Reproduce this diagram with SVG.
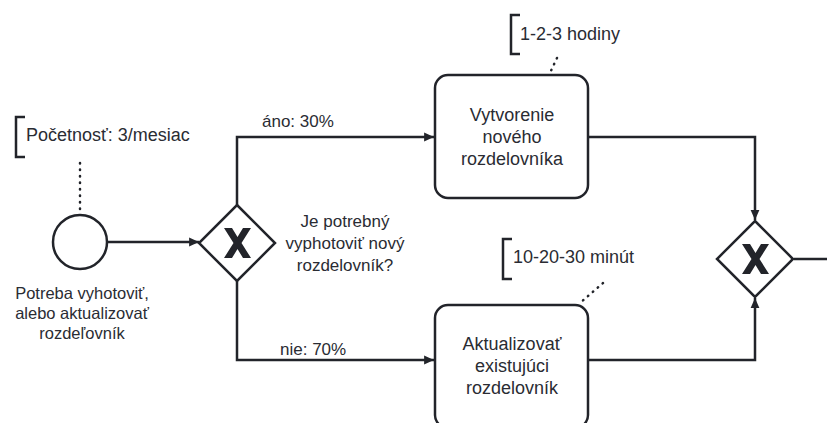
<svg xmlns="http://www.w3.org/2000/svg" width="827" height="423" viewBox="0 0 827 423">
  <style>
    .shape { fill: #ffffff; stroke: #22242a; stroke-width: 2.5; }
    .flow { fill: none; stroke: #22242a; stroke-width: 2.5; }
    .assoc { fill: none; stroke: #22242a; stroke-width: 2.5; stroke-dasharray: 0.5 6; stroke-linecap: round; }
    .bracket { fill: none; stroke: #22242a; stroke-width: 2.5; }
    .label { font-family: "Liberation Sans", Arial, sans-serif; font-size: 17px; fill: #2a2c33; }
    .small { font-size: 16.5px; }
    .big { font-size: 18px; }
    .mid { text-anchor: middle; }
    .xmark { fill: #22242a; }
  </style>
  <defs>
    <marker id="arrow" viewBox="0 0 20 20" refX="19" refY="10" markerWidth="11" markerHeight="11" markerUnits="userSpaceOnUse" orient="auto">
      <path d="M1,2 L19,10 L1,18 Z" fill="#22242a"/>
    </marker>
  </defs>

  <!-- sequence flows and associations -->
  <g id="connectors">
    <path class="flow" d="M108,242 L199,242" marker-end="url(#arrow)"/>
    <path class="flow" d="M237,205 L237,137 L434,137" marker-end="url(#arrow)"/>
    <path class="flow" d="M237,281 L237,360 L434,360" marker-end="url(#arrow)"/>
    <path class="flow" d="M588,137 L755,137 L755,220" marker-end="url(#arrow)"/>
    <path class="flow" d="M588,360 L755,360 L755,298" marker-end="url(#arrow)"/>
    <path class="flow" d="M794,259 L827,259"/>
    <path class="assoc" d="M80,163 L80,212"/>
    <path class="assoc" d="M557,58 L549,75"/>
    <path class="assoc" d="M603,283 L580,303"/>
    <text class="label" x="262" y="127">áno: 30%</text>
    <text class="label" x="280" y="355">nie: 70%</text>
  </g>

  <!-- start event -->
  <g id="start">
    <circle class="shape" cx="80" cy="242" r="27"/>
    <text class="label small mid" x="82" y="299">Potreba vyhotoviť,</text>
    <text class="label small mid" x="82" y="319">alebo aktualizovať</text>
    <text class="label small mid" x="82" y="339">rozdeľovník</text>
  </g>

  <!-- frequency annotation -->
  <g id="note-frequency">
    <path class="bracket" d="M25,117 L16,117 L16,157 L25,157"/>
    <text class="label big" x="26" y="141">Početnosť: 3/mesiac</text>
  </g>

  <!-- split gateway -->
  <g id="gateway-split">
    <path class="shape" d="M237,205 L275,243 L237,281 L199,243 Z"/>
    <path class="xmark" d="M224,228 L232,228 L237.5,237 L243,228 L251,228 L241.5,243 L251,258 L243,258 L237.5,249 L232,258 L224,258 L233.5,243 Z"/>
    <text class="label mid" x="345" y="227">Je potrebný</text>
    <text class="label mid" x="345" y="249">vyphotoviť nový</text>
    <text class="label mid" x="345" y="271">rozdelovník?</text>
  </g>

  <!-- task: create new -->
  <g id="task-create">
    <rect class="shape" x="435" y="75" width="153" height="123" rx="13"/>
    <text class="label big mid" x="512" y="121">Vytvorenie</text>
    <text class="label big mid" x="512" y="143">nového</text>
    <text class="label big mid" x="512" y="165">rozdelovníka</text>
  </g>

  <!-- duration annotation: create -->
  <g id="note-create">
    <path class="bracket" d="M520,15 L511,15 L511,54 L520,54"/>
    <text class="label big" x="520" y="40">1-2-3 hodiny</text>
  </g>

  <!-- task: update existing -->
  <g id="task-update">
    <rect class="shape" x="435" y="305" width="153" height="123" rx="13"/>
    <text class="label big mid" x="512" y="350">Aktualizovať</text>
    <text class="label big mid" x="512" y="372">existujúci</text>
    <text class="label big mid" x="512" y="394">rozdelovník</text>
  </g>

  <!-- duration annotation: update -->
  <g id="note-update">
    <path class="bracket" d="M512,239 L503,239 L503,279 L512,279"/>
    <text class="label big" x="513" y="263">10-20-30 minút</text>
  </g>

  <!-- merge gateway -->
  <g id="gateway-merge">
    <path class="shape" d="M755,221 L793,259 L755,297 L717,259 Z"/>
    <path class="xmark" d="M742,244 L750,244 L755.5,253 L761,244 L769,244 L759.5,259 L769,274 L761,274 L755.5,265 L750,274 L742,274 L751.5,259 Z"/>
  </g>
</svg>
